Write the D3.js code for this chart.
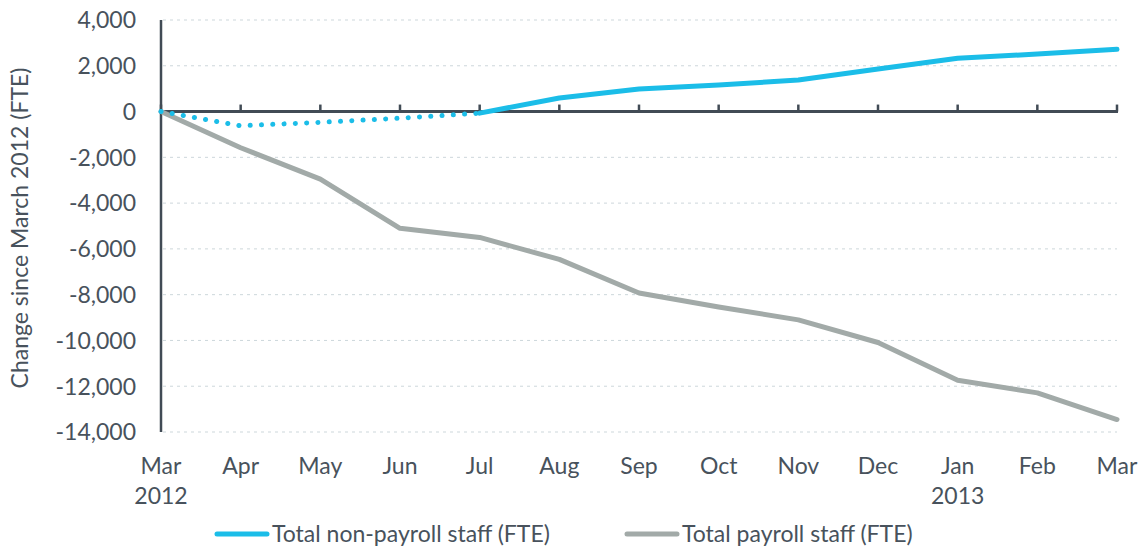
<!DOCTYPE html>
<html><head><meta charset="utf-8">
<script src="https://cdn.jsdelivr.net/npm/d3@7"></script>
<style>
html,body{margin:0;padding:0;background:#fff;}
svg text{font-family:Lato, "Open Sans", sans-serif;fill:#48525c;}
</style></head>
<body><svg id="c" width="1140" height="549"></svg>
<script>
const months = ["Mar","Apr","May","Jun","Jul","Aug","Sep","Oct","Nov","Dec","Jan","Feb","Mar"];
const years = ["2012","","","","","","","","","","2013","",""];
const nonPayroll = [0,-620,-470,-290,-70,594,986,1160,1380,1860,2330,2510,2720];
const payroll = [0,-1580,-2950,-5100,-5500,-6460,-7930,-8540,-9100,-10090,-11735,-12290,-13455];
const yTicks = [4000,2000,0,-2000,-4000,-6000,-8000,-10000,-12000,-14000];
const seriesNames = ["Total non-payroll staff (FTE)","Total payroll staff (FTE)"];
const colors = ["#1bbde8","#a2aaa8"];
const axisColor = "#414b55";
const fs = 23;

const svg = d3.select("#c");
const x = d3.scaleLinear().domain([0, months.length-1]).range([161,1117]);
const y = d3.scaleLinear().domain([-14000,4000]).range([432,20]);

// gridlines
svg.append("g").selectAll("line").data(yTicks.filter(d=>d!==0)).join("line")
  .attr("x1",163).attr("x2",1117).attr("y1",d=>y(d)).attr("y2",d=>y(d))
  .attr("stroke","#cdd7db").attr("stroke-width",1).attr("stroke-dasharray","3 4");

// y tick labels
const fmt = d3.format(",");
svg.append("g").selectAll("text").data(yTicks).join("text")
  .attr("x",136).attr("y",d=>y(d)).attr("dy","0.36em").attr("text-anchor","end")
  .attr("font-size",fs).text(d=>fmt(d).replace("−","-"));

// y axis title
svg.append("text").attr("transform","translate(28,228) rotate(-90)")
  .attr("text-anchor","middle").attr("font-size",fs).text("Change since March 2012 (FTE)");

// y axis line
svg.append("line").attr("x1",x(0)).attr("x2",x(0)).attr("y1",y(4000)).attr("y2",y(-14000))
  .attr("stroke",axisColor).attr("stroke-width",2.5);

// zero axis with ticks
svg.append("line").attr("x1",x(0)).attr("x2",x(12)+1).attr("y1",y(0)).attr("y2",y(0))
  .attr("stroke",axisColor).attr("stroke-width",3);
svg.append("g").selectAll("line").data(d3.range(months.length)).join("line")
  .attr("x1",d=>x(d)).attr("x2",d=>x(d)).attr("y1",y(0)-7).attr("y2",y(0))
  .attr("stroke",axisColor).attr("stroke-width",2.5);

// x labels
svg.append("g").selectAll("text").data(months).join("text")
  .attr("x",(d,i)=>x(i)).attr("y",474).attr("text-anchor","middle").attr("font-size",fs).text(d=>d);
svg.append("g").selectAll("text").data(years).join("text")
  .attr("x",(d,i)=>x(i)).attr("y",504).attr("text-anchor","middle").attr("font-size",fs).text(d=>d);

const line = d3.line().x(d=>x(d.i)).y(d=>y(d.v));
const payPts = payroll.map((v,i)=>({i,v}));
const npPts = nonPayroll.map((v,i)=>({i,v}));

svg.append("path").attr("d",line(payPts)).attr("fill","none").attr("stroke",colors[1])
  .attr("stroke-width",5).attr("stroke-linejoin","round").attr("stroke-linecap","round");

svg.append("path").attr("d",line(npPts.slice(0,5))).attr("fill","none").attr("stroke",colors[0])
  .attr("stroke-width",5).attr("stroke-dasharray","0.1 11.2").attr("stroke-linecap","round");
svg.append("path").attr("d",line(npPts.slice(4))).attr("fill","none").attr("stroke",colors[0])
  .attr("stroke-width",5).attr("stroke-linejoin","round").attr("stroke-linecap","round");

// legend
const leg = [{x1:217,x2:267,tx:272},{x1:627,x2:677,tx:682}];
leg.forEach((l,k)=>{
  svg.append("line").attr("x1",l.x1).attr("x2",l.x2).attr("y1",534).attr("y2",534)
    .attr("stroke",colors[k]).attr("stroke-width",5).attr("stroke-linecap","round");
  svg.append("text").attr("x",l.tx).attr("y",534).attr("dy","0.36em").attr("font-size",fs).text(seriesNames[k]);
});
</script></body></html>
